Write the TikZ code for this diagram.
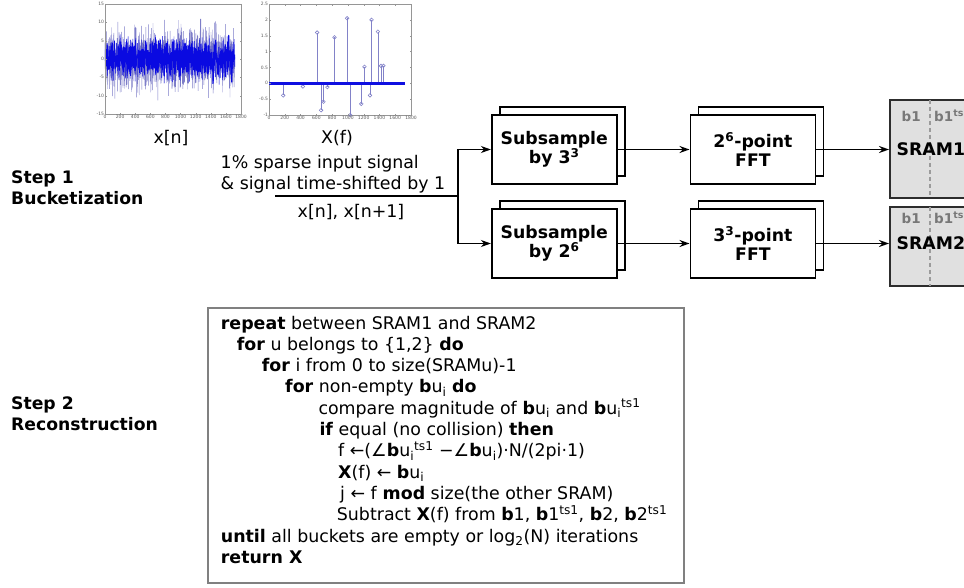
\documentclass[tikz,border=0pt]{standalone}
\usepackage{fontspec}
\setmainfont{DejaVu Sans}
\usetikzlibrary{arrows.meta,calc}

\definecolor{framegray}{RGB}{128,128,128}
\definecolor{sramfill}{RGB}{224,224,224}
\definecolor{sramedge}{RGB}{45,45,45}
\definecolor{bucketgray}{RGB}{120,120,120}
\definecolor{dashgray}{RGB}{155,155,155}
\definecolor{axisgray}{RGB}{150,150,150}
\definecolor{ticktext}{RGB}{90,90,90}
\definecolor{noiselight}{RGB}{125,125,200}
\definecolor{noisedark}{RGB}{10,10,225}
\definecolor{stemcol}{RGB}{130,130,200}
\definecolor{basecol}{RGB}{15,15,225}

% bucket entry b u_i and the time-shifted tag
\newcommand\bui{\textbf{b}u\textsubscript{i}}
\newcommand\tsone{\textsuperscript{ts1}}

\begin{document}
\begin{tikzpicture}[x=1pt,y=-1pt,
  font=\fontsize{17.4}{21}\selectfont,
  stepl/.style={font=\fontsize{17.2}{21}\selectfont\bfseries, align=left, inner sep=0pt, anchor=north west},
  procbox/.style={draw, line width=1.8pt, fill=white, minimum width=125pt, minimum height=69pt,
    inner sep=0pt, align=center, font=\fontsize{17.3}{19}\selectfont\bfseries},
  backbox/.style={draw, line width=1.8pt, fill=white, minimum width=125pt, minimum height=69pt, inner sep=0pt},
  srambox/.style={draw=sramedge, line width=1.8pt, fill=sramfill, minimum width=120pt, anchor=north west, inner sep=0pt},
  wire/.style={line width=1.7pt},
  flow/.style={wire, -{Stealth[length=10pt,width=7pt]}},
  algline/.style={anchor=base west, inner sep=0pt},
  bucket/.style={font=\fontsize{13.5}{13.5}\selectfont\bfseries, text=bucketgray, inner sep=0pt, anchor=west},
  sramlab/.style={font=\fontsize{17.3}{17.3}\selectfont\bfseries, inner sep=0pt, anchor=west},
  ticklab/.style={font=\fontsize{4.5}{4.5}\selectfont, text=ticktext, inner sep=0.8pt},
  stem/.style={stemcol, line width=0.6pt},
  dashsep/.style={dashgray, line width=1.2pt, dash pattern=on 4pt off 3pt}
]
\useasboundingbox (0,0) rectangle (964,588);
\clip (0,0) rectangle (964,588);

% ---------- time-domain signal x[n] ----------
\begin{scope}[shift={(105,59)}, x=0.07556pt, y=3.667pt]
  \pgfmathsetseed{11}
  \draw[noiselight, line width=0.4pt] plot[domain=0:1720, samples=1000, variable=\t]
    (\t, {4.3*(rand+rand+rand)});
  \draw[noisedark, line width=0.4pt] plot[domain=0:1720, samples=1700, variable=\t]
    (\t, {2.6*(rand+rand+rand)});
  \draw[axisgray, line width=0.5pt] (0,-15) rectangle (1800,15);
  \foreach \t [count=\k] in {0,200,...,1800} {
    \draw[axisgray, line width=0.3pt] (\t,-15) -- ++(0,1.5pt) (\t,15) -- ++(0,-1.5pt);
    \node[ticklab, anchor=north] (pax\k) at (\t,-15) {\t};
  }
  \foreach \v [count=\k] in {-15,-10,...,15} {
    \draw[axisgray, line width=0.3pt] (0,\v) -- ++(1.5pt,0) (1800,\v) -- ++(-1.5pt,0);
    \node[ticklab, anchor=east] (pay\k) at (0,\v) {\v};
  }
\end{scope}
\node[anchor=base] (xnlab) at (171,144) {x[n]};

% ---------- sparse spectrum X(f) ----------
\begin{scope}[shift={(269,83.3)}, x=0.07889pt, y=31.71pt]
  \draw[axisgray, line width=0.5pt] (0,-1) rectangle (1800,2.5);
  \foreach \a/\b in {180/-0.38, 430/-0.1, 610/1.6, 660/-0.85, 690/-0.58, 740/-0.12,
                     830/1.45, 990/2.05, 1030/-1.0, 1170/-0.65, 1210/0.52, 1280/-0.38,
                     1300/2.0, 1380/1.63, 1420/0.55, 1450/0.55} {
    \draw[stem] (\a,0) -- (\a,\b);
    \draw[stem] (\a,\b) circle[radius=1.8pt];
  }
  \draw[basecol, line width=3.5pt] (0,0) -- (1720,0);
  \foreach \t [count=\k] in {0,200,...,1800} {
    \draw[axisgray, line width=0.3pt] (\t,-1) -- ++(0,1.5pt) (\t,2.5) -- ++(0,-1.5pt);
    \node[ticklab, anchor=north] (pbx\k) at (\t,-1) {\t};
  }
  \foreach \v [count=\k] in {-1,-0.5,0,0.5,1,1.5,2,2.5} {
    \draw[axisgray, line width=0.3pt] (0,\v) -- ++(1.5pt,0) (1800,\v) -- ++(-1.5pt,0);
    \node[ticklab, anchor=east] (pby\k) at (0,\v) {\v};
  }
\end{scope}
\node[anchor=base] (xflab) at (337,144) {X(f)};

% ---------- step labels ----------
\node[stepl] (step1) at (11,171) {Step 1\\Bucketization};
\node[stepl] (step2) at (11,397) {Step 2\\Reconstruction};

% ---------- input signal ----------
\node[anchor=north west, align=left, inner sep=0pt] (intext) at (220.5,155)
  {1\% sparse input signal\\\& signal time-shifted by 1};
\coordinate (inl) at (275,196);
\coordinate (jn) at (458.3,196);
\node[anchor=base] (xnn) at (351,217.3) {x[n], x[n+1]};

% ---------- processing chains ----------
\node[backbox] (sub1b) at (562.3,141.5) {};
\node[procbox] (sub1) at (554.3,149.5) {Subsample\\by 3\textsuperscript{3}};
\node[backbox] (fft1b) at (760.9,141.5) {};
\node[procbox] (fft1) at (752.9,149.5) {2\textsuperscript{6}-point\\FFT};
\node[backbox] (sub2b) at (562.3,235.5) {};
\node[procbox] (sub2) at (554.3,243.5) {Subsample\\by 2\textsuperscript{6}};
\node[backbox] (fft2b) at (760.9,235.5) {};
\node[procbox] (fft2) at (752.9,243.5) {3\textsuperscript{3}-point\\FFT};

% ---------- memories ----------
\node[srambox, minimum height=98pt] (sram1) at (889,99) {};
\node[srambox, minimum height=79pt] (sram2) at (889,206) {};
\draw[dashsep] ($(sram1.north west)+(41,1)$) -- ($(sram1.south west)+(41,-1)$);
\draw[dashsep] ($(sram2.north west)+(41,1)$) -- ($(sram2.south west)+(41,-1)$);
\node[bucket] (b1a) at (901.5,116) {b1};
\node[bucket] (b1b) at (934,116) {b1\textsuperscript{ts1}};
\node[bucket] (b2a) at (901.5,218) {b1};
\node[bucket] (b2b) at (934,218) {b1\textsuperscript{ts1}};
\node[sramlab] (s1t) at (896.5,149.5) {SRAM1};
\node[sramlab] (s2t) at (896.5,243.5) {SRAM2};

% ---------- connectors ----------
\draw[wire] (inl) -- (jn);
\draw[flow] (jn) |- (sub1.west);
\draw[flow] (jn) |- (sub2.west);
\draw[flow] (sub1.east) -- (fft1.west);
\draw[flow] (sub2.east) -- (fft2.west);
\draw[flow] (fft1.east) -- (fft1.east -| sram1.west);
\draw[flow] (fft2.east) -- (fft2.east -| sram2.west);

% ---------- reconstruction algorithm ----------
\node[draw=framegray, line width=2pt, anchor=north west, minimum width=476pt,
      minimum height=275pt, inner sep=0pt] (alg) at (207,307) {};
\node[algline] (l1)  at (220.7,329)   {\textbf{repeat} between SRAM1 and SRAM2};
\node[algline] (l2)  at (236.7,350.3) {\textbf{for} u belongs to \{1,2\} \textbf{do}};
\node[algline] (l3)  at (261.7,371.6) {\textbf{for} i from 0 to size(SRAMu)-1};
\node[algline] (l4)  at (285,392.9)   {\textbf{for} non-empty \bui\ \textbf{do}};
\node[algline] (l5)  at (318.3,414.2) {compare magnitude of \bui\ and \bui\tsone};
\node[algline] (l6)  at (319.3,435.5) {\textbf{if} equal (no collision) \textbf{then}};
\node[algline] (l7)  at (338,456.8)   {f ←(∠\bui\tsone\ −∠\bui)·N/(2pi·1)};
\node[algline] (l8)  at (338,478.1)   {\textbf{X}(f) ← \bui};
\node[algline] (l9)  at (340,499.4)   {j ← f \textbf{mod} size(the other SRAM)};
\node[algline] (l10) at (336.7,520.7) {Subtract \textbf{X}(f) from \textbf{b}1, \textbf{b}1\tsone, \textbf{b}2, \textbf{b}2\tsone};
\node[algline] (l11) at (220.7,542)   {\textbf{until} all buckets are empty or log\textsubscript{2}(N) iterations};
\node[algline] (l12) at (220.7,563.3) {\textbf{return X}};
\end{tikzpicture}
\end{document}
